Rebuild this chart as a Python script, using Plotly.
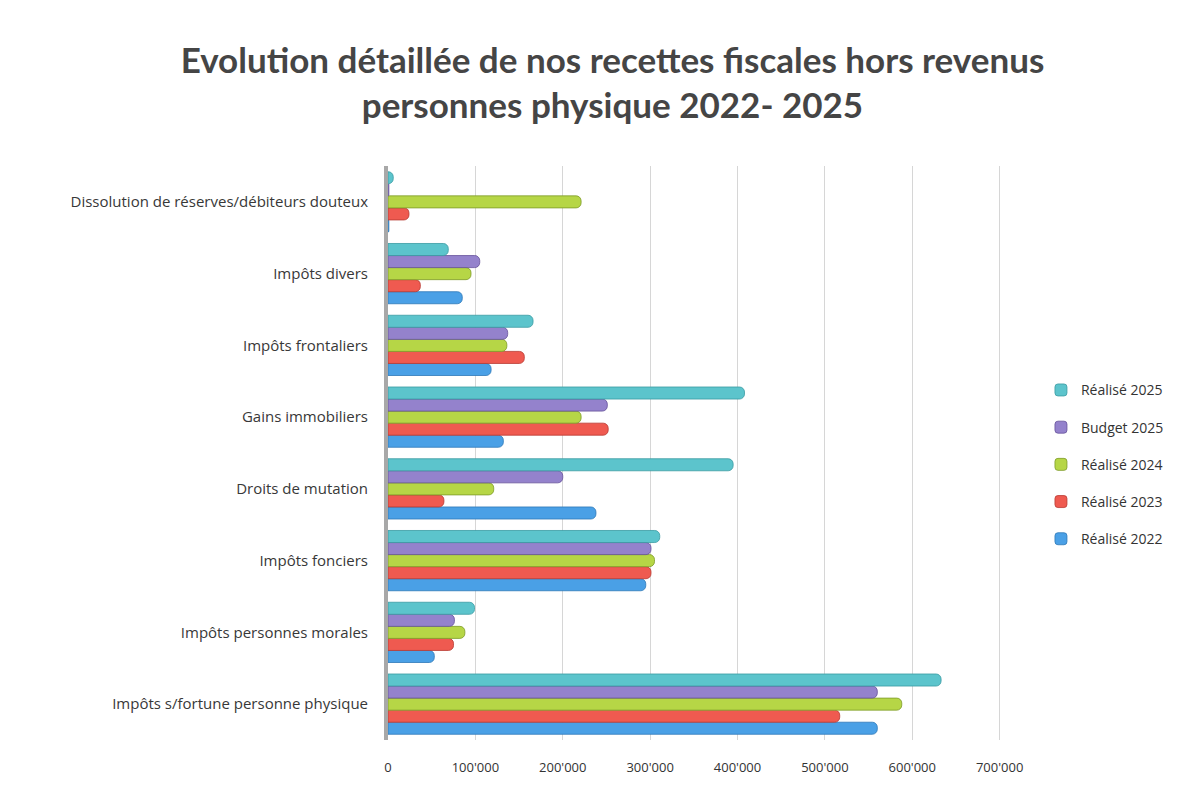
import plotly.graph_objects as go

categories = [
    "Impôts s/fortune personne physique",
    "Impôts personnes morales",
    "Impôts fonciers",
    "Droits de mutation",
    "Gains immobiliers",
    "Impôts frontaliers",
    "Impôts divers",
    "Dissolution de réserves/débiteurs douteux",
]

series_names = ["Réalisé 2022", "Réalisé 2023", "Réalisé 2024", "Budget 2025", "Réalisé 2025"]

realise_2022 = [560000, 53000, 295000, 238000, 132000, 118000, 85000, 1000]
realise_2023 = [517000, 75000, 301000, 64000, 252000, 156000, 37000, 24000]
realise_2024 = [588000, 88000, 305000, 121000, 221000, 136000, 95000, 221000]
budget_2025 = [560000, 76000, 301000, 200000, 251000, 137000, 105000, 1000]
realise_2025 = [633000, 99000, 311000, 395000, 408000, 166000, 69000, 6000]

series_values = [realise_2022, realise_2023, realise_2024, budget_2025, realise_2025]
colors = ["#4aa0e6", "#ef5a50", "#b6d646", "#9482cc", "#5cc4cc"]
line_colors = ["#2f78b8", "#b83a32", "#7e9a28", "#66529a", "#3a9aa2"]

tick_vals = [0, 100000, 200000, 300000, 400000, 500000, 600000, 700000]
tick_text = ["0", "100'000", "200'000", "300'000", "400'000", "500'000", "600'000", "700'000"]

fig = go.Figure()
n = len(series_names)
for i, (name, vals) in enumerate(zip(series_names, series_values)):
    fig.add_trace(go.Bar(
        y=categories,
        x=vals,
        name=name,
        orientation="h",
        legendgroup=name,
        legendrank=1000 + (n - i),
        marker=dict(color=colors[i], line=dict(color=line_colors[i], width=0.8),
                    cornerradius=5),
    ))

fig.update_layout(
    width=1197,
    height=787,
    paper_bgcolor="white",
    plot_bgcolor="white",
    barmode="group",
    bargap=0.16,
    bargroupgap=0.0,
    margin=dict(l=380, r=201, t=158, b=55),
    title=dict(
        text="Evolution détaillée de nos recettes fiscales hors revenus<br>personnes physique 2022- 2025",
        x=0.505,
        xanchor="center",
        y=0.918,
        yanchor="top",
        font=dict(family="Lato", size=35, color="#454545", weight="bold"),
    ),
    font=dict(family="Open Sans", color="#3a3a3a"),
    xaxis=dict(
        range=[0, 705000],
        tickvals=tick_vals,
        ticktext=tick_text,
        showgrid=True,
        gridcolor="#d6d6d6",
        gridwidth=1,
        zeroline=False,
        ticks="outside",
        ticklen=15,
        tickcolor="white",
        tickfont=dict(size=13, color="#333333"),
        showline=False,
        automargin=False,
    ),
    yaxis=dict(
        showgrid=False,
        showline=True,
        linecolor="#a8a8a8",
        linewidth=4,
        ticks="outside",
        ticklen=13,
        tickcolor="white",
        tickfont=dict(size=15, color="#383838"),
        automargin=False,
    ),
    legend=dict(
        traceorder="grouped",
        x=1.06,
        xanchor="left",
        y=0.637,
        yanchor="top",
        tracegroupgap=16,
        font=dict(size=14, color="#333333"),
        itemwidth=30,
    ),
)

fig.write_html("out.html")
